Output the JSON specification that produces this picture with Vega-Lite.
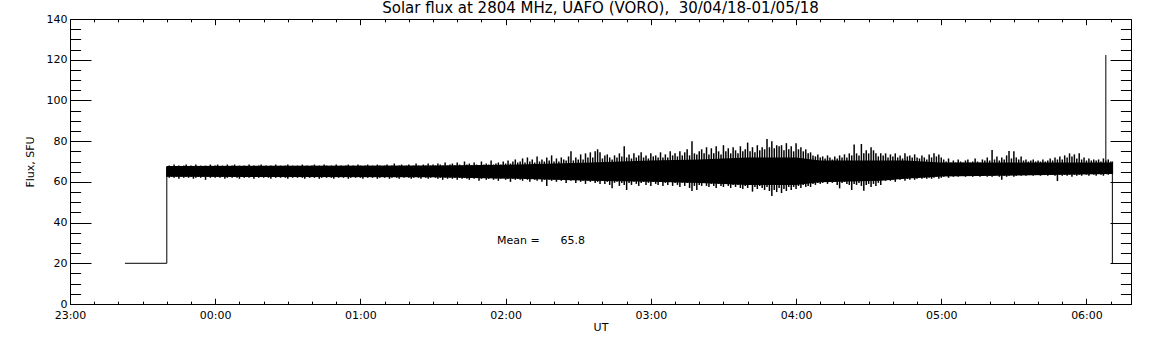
{
"$schema":"https://vega.github.io/schema/vega-lite/v6.json",
"autosize":{"type":"none"},
"padding":{"left":70,"top":19,"right":21,"bottom":41},
"width":1061,"height":285,
"background":"white",
"title":{"text":"Solar flux at 2804 MHz, UAFO (VORO),\u00a0 30/04/18-01/05/18","font":"DejaVu Sans","fontSize":15,"fontWeight":"normal","color":"black","anchor":"middle","baseline":"alphabetic","offset":-15},
"config":{"view":{"stroke":null},"axis":{"grid":false,"domainColor":"black","tickColor":"black","labelColor":"black","titleColor":"black","labelFont":"DejaVu Sans","labelFontSize":11,"titleFont":"DejaVu Sans","titleFontSize":11,"titleFontWeight":"normal","domainWidth":1,"tickWidth":1,"labelFlush":false,"labelOverlap":false}},
"datasets":{
"core":[
{"m":40,"l":62.5,"h":67.8},{"m":150,"l":62.3,"h":68},{"m":185,"l":61.5,"h":68.5},{"m":215,"l":60.5,"h":69.5},{"m":240,"l":60,"h":70.5},{"m":260,"l":59.5,"h":71},{"m":280,"l":58.5,"h":72},{"m":300,"l":58.5,"h":72},{"m":310,"l":59.8,"h":70.5},{"m":335,"l":60.5,"h":70.5},{"m":345,"l":61.5,"h":70.5},{"m":360,"l":62.6,"h":69.5},{"m":430.7,"l":63.8,"h":69.5}
],
"band":[
{"m":40,"l":62.5,"h":67.5},{"m":41,"l":62,"h":68},{"m":42,"l":62.5,"h":67.5},{"m":43,"l":62,"h":68.5},{"m":44,"l":62.5,"h":67.5},{"m":45,"l":61.5,"h":68},{"m":46,"l":62.5,"h":67.5},{"m":47,"l":62,"h":68},{"m":48,"l":62.5,"h":68.5},{"m":49,"l":62,"h":67.5},
{"m":50,"l":62.5,"h":68},{"m":51,"l":61.5,"h":67.5},{"m":52,"l":62,"h":68.5},{"m":53,"l":62.5,"h":67.5},{"m":54,"l":62,"h":68},{"m":55,"l":62.5,"h":67.5},{"m":56,"l":61,"h":68},{"m":57,"l":62.5,"h":67.5},{"m":58,"l":62,"h":68.5},{"m":59,"l":62.5,"h":67.5},
{"m":60,"l":62,"h":68},{"m":61,"l":62.5,"h":68.5},{"m":62,"l":62,"h":67.5},{"m":63,"l":62.5,"h":68},{"m":64,"l":61.5,"h":67.5},{"m":65,"l":62,"h":68.5},{"m":66,"l":62.5,"h":67.5},{"m":67,"l":62,"h":68},{"m":68,"l":62.5,"h":68.5},{"m":69,"l":62,"h":67.5},
{"m":70,"l":61.5,"h":68},{"m":71,"l":62.5,"h":67.5},{"m":72,"l":62,"h":68},{"m":73,"l":62.5,"h":67.5},{"m":74,"l":62,"h":68.5},{"m":75,"l":62.5,"h":67.5},{"m":76,"l":61.5,"h":68},{"m":77,"l":62.5,"h":67.5},{"m":78,"l":62,"h":68},{"m":79,"l":62.5,"h":68.5},
{"m":80,"l":62,"h":67.5},{"m":81,"l":62.5,"h":68},{"m":82,"l":62,"h":67.5},{"m":83,"l":61.5,"h":68},{"m":84,"l":62.5,"h":67.5},{"m":85,"l":62,"h":68.5},{"m":86,"l":62.5,"h":67.5},{"m":87,"l":62,"h":68},{"m":88,"l":62.5,"h":67.5},{"m":89,"l":62,"h":68},
{"m":90,"l":61.5,"h":68.5},{"m":91,"l":62.5,"h":67.5},{"m":92,"l":62,"h":68},{"m":93,"l":62.5,"h":67.5},{"m":94,"l":62,"h":68},{"m":95,"l":62.5,"h":67.5},{"m":96,"l":62,"h":68.5},{"m":97,"l":61.5,"h":67.5},{"m":98,"l":62.5,"h":68},{"m":99,"l":62,"h":67.5},
{"m":100,"l":62.5,"h":68},{"m":101,"l":62,"h":68.5},{"m":102,"l":62.5,"h":67.5},{"m":103,"l":61.5,"h":68},{"m":104,"l":62,"h":67.5},{"m":105,"l":62.5,"h":68.5},{"m":106,"l":62,"h":68},{"m":107,"l":62.5,"h":67.5},{"m":108,"l":62,"h":68},{"m":109,"l":61.5,"h":67.5},
{"m":110,"l":62.5,"h":68.5},{"m":111,"l":62,"h":67.5},{"m":112,"l":62.5,"h":68},{"m":113,"l":62,"h":67.5},{"m":114,"l":62.5,"h":68},{"m":115,"l":61.5,"h":68.5},{"m":116,"l":62,"h":67.5},{"m":117,"l":62.5,"h":68},{"m":118,"l":62,"h":67.5},{"m":119,"l":62.5,"h":68.5},
{"m":120,"l":62,"h":68},{"m":121,"l":61.5,"h":67.5},{"m":122,"l":62.5,"h":68},{"m":123,"l":62,"h":68.5},{"m":124,"l":62.5,"h":67.5},{"m":125,"l":62,"h":68},{"m":126,"l":62.5,"h":67.5},{"m":127,"l":61.5,"h":68.5},{"m":128,"l":62,"h":68},{"m":129,"l":62.5,"h":67.5},
{"m":130,"l":62,"h":68},{"m":131,"l":62.5,"h":68.5},{"m":132,"l":61.5,"h":67.5},{"m":133,"l":62,"h":68},{"m":134,"l":62.5,"h":69},{"m":135,"l":62,"h":67.5},{"m":136,"l":61.5,"h":68},{"m":137,"l":62.5,"h":68.5},{"m":138,"l":62,"h":67.5},{"m":139,"l":62.5,"h":68},
{"m":140,"l":62,"h":68.5},{"m":141,"l":61.5,"h":67.5},{"m":142,"l":62,"h":68},{"m":143,"l":62.5,"h":69},{"m":144,"l":62,"h":68},{"m":145,"l":61.5,"h":67.5},{"m":146,"l":62.5,"h":68.5},{"m":147,"l":62,"h":68},{"m":148,"l":61.5,"h":69},{"m":149,"l":62,"h":68},
{"m":150,"l":62.5,"h":68.5},{"m":151,"l":62,"h":68},{"m":152,"l":61.5,"h":69},{"m":153,"l":62,"h":68.5},{"m":154,"l":61,"h":68},{"m":155,"l":62,"h":69.5},{"m":156,"l":61.5,"h":68},{"m":157,"l":62,"h":68.5},{"m":158,"l":61.5,"h":69},{"m":159,"l":62,"h":68},
{"m":160,"l":61,"h":69.5},{"m":161,"l":62,"h":68.5},{"m":162,"l":61.5,"h":68},{"m":163,"l":62,"h":70},{"m":164,"l":61.5,"h":68.5},{"m":165,"l":61,"h":69},{"m":166,"l":62,"h":68},{"m":167,"l":61.5,"h":69.5},{"m":168,"l":62,"h":68.5},{"m":169,"l":60.5,"h":68},
{"m":170,"l":61.5,"h":70},{"m":171,"l":62,"h":68.5},{"m":172,"l":61,"h":69},{"m":173,"l":61.5,"h":68.5},{"m":174,"l":62,"h":70.5},{"m":175,"l":61,"h":68.5},{"m":176,"l":61.5,"h":69},{"m":177,"l":60.5,"h":69.5},{"m":178,"l":61.5,"h":68.5},{"m":179,"l":62,"h":70},
{"m":180,"l":61,"h":69},{"m":181,"l":61.5,"h":70.5},{"m":182,"l":60,"h":69},{"m":183,"l":61.5,"h":70},{"m":184,"l":61,"h":71},{"m":185,"l":61.5,"h":69.5},{"m":186,"l":61,"h":70},{"m":187,"l":60.5,"h":71.5},{"m":188,"l":61.5,"h":69.5},{"m":189,"l":61,"h":72},
{"m":190,"l":60,"h":70},{"m":191,"l":61.5,"h":71},{"m":192,"l":61,"h":69.5},{"m":193,"l":60.5,"h":72.5},{"m":194,"l":61.5,"h":70},{"m":195,"l":60,"h":71},{"m":196,"l":61,"h":70},{"m":197,"l":58,"h":72},{"m":198,"l":61,"h":70.5},{"m":199,"l":60.5,"h":73},
{"m":200,"l":61,"h":70},{"m":201,"l":60,"h":71.5},{"m":202,"l":61.5,"h":70},{"m":203,"l":60.5,"h":72},{"m":204,"l":61,"h":71},{"m":205,"l":59.5,"h":70.5},{"m":206,"l":61,"h":72.5},{"m":207,"l":60.5,"h":75},{"m":208,"l":61,"h":70.5},{"m":209,"l":59.5,"h":72},
{"m":210,"l":61,"h":71},{"m":211,"l":60,"h":73.5},{"m":212,"l":60.5,"h":71},{"m":213,"l":59,"h":74},{"m":214,"l":60.5,"h":72},{"m":215,"l":60,"h":74.5},{"m":216,"l":60.5,"h":72},{"m":217,"l":59.5,"h":75},{"m":218,"l":60,"h":76},{"m":219,"l":59,"h":74.5},
{"m":220,"l":60.5,"h":71.5},{"m":221,"l":59,"h":73},{"m":222,"l":60,"h":73.5},{"m":223,"l":58.5,"h":72},{"m":224,"l":56.8,"h":71},{"m":225,"l":59.5,"h":73},{"m":226,"l":60,"h":72},{"m":227,"l":58,"h":74},{"m":228,"l":59.5,"h":72.5},{"m":229,"l":58.5,"h":77.5},
{"m":230,"l":56,"h":72},{"m":231,"l":59.5,"h":73.5},{"m":232,"l":58.5,"h":71.5},{"m":233,"l":60,"h":74},{"m":234,"l":59,"h":72},{"m":235,"l":58,"h":73},{"m":236,"l":59.5,"h":74.5},{"m":237,"l":60,"h":72},{"m":238,"l":58.5,"h":73},{"m":239,"l":59.5,"h":71.5},
{"m":240,"l":58,"h":74},{"m":241,"l":60,"h":72.5},{"m":242,"l":59,"h":73},{"m":243,"l":58.5,"h":72},{"m":244,"l":60,"h":74.5},{"m":245,"l":58,"h":72},{"m":246,"l":59.5,"h":73.5},{"m":247,"l":58.5,"h":72},{"m":248,"l":60,"h":75},{"m":249,"l":58,"h":73},
{"m":250,"l":59.5,"h":74},{"m":251,"l":58.5,"h":72.5},{"m":252,"l":57.5,"h":75},{"m":253,"l":59.5,"h":73},{"m":254,"l":58,"h":74.5},{"m":255,"l":59.5,"h":76},{"m":256,"l":57,"h":73},{"m":257,"l":55.5,"h":80},{"m":258,"l":58,"h":74},{"m":259,"l":56,"h":73.5},
{"m":260,"l":58.5,"h":75},{"m":261,"l":58,"h":76},{"m":262,"l":59.5,"h":74},{"m":263,"l":58,"h":77},{"m":264,"l":57.5,"h":73.5},{"m":265,"l":59,"h":76.5},{"m":266,"l":58,"h":74},{"m":267,"l":57,"h":77.5},{"m":268,"l":59,"h":75},{"m":269,"l":58,"h":73.5},
{"m":270,"l":57.5,"h":78},{"m":271,"l":59,"h":75},{"m":272,"l":58,"h":76.5},{"m":273,"l":57,"h":74},{"m":274,"l":58.5,"h":77},{"m":275,"l":57.5,"h":75.5},{"m":276,"l":58.5,"h":74},{"m":277,"l":57,"h":77.5},{"m":278,"l":56.5,"h":75},{"m":279,"l":58,"h":76},
{"m":280,"l":57,"h":79.3},{"m":281,"l":58.5,"h":75},{"m":282,"l":55.2,"h":77},{"m":283,"l":57.5,"h":74.5},{"m":284,"l":56.5,"h":78},{"m":285,"l":58,"h":75.5},{"m":286,"l":57,"h":77},{"m":287,"l":56,"h":76},{"m":288,"l":57.5,"h":81},{"m":289,"l":55.5,"h":77},
{"m":290,"l":53,"h":80},{"m":291,"l":56,"h":76.5},{"m":292,"l":55,"h":78},{"m":293,"l":57,"h":77.5},{"m":294,"l":54.5,"h":78},{"m":295,"l":56.5,"h":75.5},{"m":296,"l":55.5,"h":79},{"m":297,"l":57.5,"h":76},{"m":298,"l":56,"h":77.5},{"m":299,"l":57.5,"h":75},
{"m":300,"l":56.5,"h":79},{"m":301,"l":58,"h":76},{"m":302,"l":57,"h":77},{"m":303,"l":58.5,"h":75},{"m":304,"l":57.5,"h":76},{"m":305,"l":58,"h":74},{"m":306,"l":57.5,"h":74.5},{"m":307,"l":59,"h":73},{"m":308,"l":58.5,"h":72.5},{"m":309,"l":59.5,"h":73.5},
{"m":310,"l":59,"h":72},{"m":311,"l":59.5,"h":72.5},{"m":312,"l":60,"h":71.5},{"m":313,"l":59,"h":73},{"m":314,"l":60,"h":72},{"m":315,"l":59.5,"h":71},{"m":316,"l":60,"h":72.5},{"m":317,"l":58.5,"h":71.5},{"m":318,"l":56.8,"h":73},{"m":319,"l":59.5,"h":72},
{"m":320,"l":60,"h":73.5},{"m":321,"l":59,"h":72},{"m":322,"l":58.5,"h":74},{"m":323,"l":56,"h":73},{"m":324,"l":59,"h":78.4},{"m":325,"l":58.5,"h":74},{"m":326,"l":59.5,"h":73},{"m":327,"l":58,"h":78.6},{"m":328,"l":55.6,"h":74},{"m":329,"l":58.5,"h":75.5},
{"m":330,"l":59,"h":74},{"m":331,"l":57.5,"h":77},{"m":332,"l":59,"h":75.5},{"m":333,"l":58,"h":74},{"m":334,"l":59.5,"h":72.5},{"m":335,"l":58.5,"h":74},{"m":336,"l":61,"h":73},{"m":337,"l":60.5,"h":74},{"m":338,"l":61.5,"h":72},{"m":339,"l":60.5,"h":73.5},
{"m":340,"l":61,"h":72.5},{"m":341,"l":60,"h":74},{"m":342,"l":61.5,"h":72},{"m":343,"l":61,"h":73},{"m":344,"l":61.5,"h":71.5},{"m":345,"l":60.5,"h":74},{"m":346,"l":61.5,"h":72.5},{"m":347,"l":61,"h":73},{"m":348,"l":62,"h":72},{"m":349,"l":61,"h":73.5},
{"m":350,"l":61.5,"h":72},{"m":351,"l":62,"h":71.5},{"m":352,"l":61.5,"h":73},{"m":353,"l":62,"h":72},{"m":354,"l":61.5,"h":71},{"m":355,"l":62,"h":73.5},{"m":356,"l":61.5,"h":72},{"m":357,"l":62,"h":74},{"m":358,"l":62.5,"h":72.5},{"m":359,"l":61.5,"h":73.5},
{"m":360,"l":62,"h":72},{"m":361,"l":62.5,"h":71},{"m":362,"l":63,"h":70},{"m":363,"l":62,"h":71.5},{"m":364,"l":63,"h":69.5},{"m":365,"l":62.5,"h":70.5},{"m":366,"l":63.5,"h":69.5},{"m":367,"l":62.5,"h":71},{"m":368,"l":63,"h":70},{"m":369,"l":63.5,"h":69.5},
{"m":370,"l":62.5,"h":70.5},{"m":371,"l":63,"h":71},{"m":372,"l":63.5,"h":69.5},{"m":373,"l":62.5,"h":70},{"m":374,"l":63,"h":71.5},{"m":375,"l":63.5,"h":70},{"m":376,"l":62.5,"h":69.5},{"m":377,"l":63,"h":71},{"m":378,"l":63.5,"h":70.5},{"m":379,"l":62.5,"h":72},
{"m":380,"l":63,"h":70.5},{"m":381,"l":62.5,"h":75.6},{"m":382,"l":63,"h":71},{"m":383,"l":63.5,"h":72.5},{"m":384,"l":62.5,"h":70.5},{"m":385,"l":61,"h":72},{"m":386,"l":63,"h":71},{"m":387,"l":62.5,"h":73},{"m":388,"l":63,"h":75.1},{"m":389,"l":63.5,"h":71.5},
{"m":390,"l":62.5,"h":75},{"m":391,"l":63,"h":72},{"m":392,"l":63.5,"h":71},{"m":393,"l":63,"h":72.5},{"m":394,"l":63.5,"h":70.5},{"m":395,"l":63,"h":71},{"m":396,"l":64,"h":70},{"m":397,"l":63.5,"h":70.5},{"m":398,"l":63,"h":71},{"m":399,"l":64,"h":70},
{"m":400,"l":63.5,"h":70.5},{"m":401,"l":63,"h":70},{"m":402,"l":64,"h":71},{"m":403,"l":63.5,"h":70},{"m":404,"l":63,"h":70.5},{"m":405,"l":64,"h":71.5},{"m":406,"l":63.5,"h":70.5},{"m":407,"l":63,"h":72},{"m":408,"l":60.4,"h":71},{"m":409,"l":63.5,"h":72.5},
{"m":410,"l":63,"h":71},{"m":411,"l":63.5,"h":73},{"m":412,"l":63,"h":72},{"m":413,"l":63.5,"h":74},{"m":414,"l":62.5,"h":72.5},{"m":415,"l":63.5,"h":73.5},{"m":416,"l":63,"h":71.5},{"m":417,"l":63.5,"h":74},{"m":418,"l":63,"h":71},{"m":419,"l":64,"h":72},
{"m":420,"l":63.5,"h":70.5},{"m":421,"l":63,"h":71.5},{"m":422,"l":64,"h":70.5},{"m":423,"l":63.5,"h":71},{"m":424,"l":63,"h":70.5},{"m":425,"l":64,"h":71},{"m":426,"l":63.5,"h":70},{"m":427,"l":63,"h":71.5},{"m":428,"l":64,"h":70.5},{"m":429,"l":63.5,"h":71},
{"m":430,"l":64,"h":70},{"m":430.7,"l":64,"h":70}
],
"segs":[
{"g":"a","o":1,"m":22.7,"v":20},{"g":"a","o":2,"m":40,"v":20},{"g":"a","o":3,"m":40,"v":64},
{"g":"b","o":1,"m":430.7,"v":66},{"g":"b","o":2,"m":430.7,"v":20}
],
"spike":[{"m":428,"lo":66,"hi":122.3}],
"note":[{"m":176.4,"v":29.5,"t":"Mean =\u00a0\u00a0\u00a0\u00a0\u00a0\u00a065.8"}]
},
"resolve":{"axis":{"x":"independent","y":"independent"}},
"layer":[
{"data":{"name":"core"},
 "mark":{"type":"area","color":"black","opacity":1},
 "encoding":{
  "x":{"field":"m","type":"quantitative","scale":{"domain":[0,438.4],"nice":false,"zero":false},
       "axis":{"orient":"bottom","values":[0,60,120,180,240,300,360,420],"tickSize":-5.7,"labelPadding":11.5,"labelExpr":"timeFormat(datetime(2018,3,30,23,datum.value,0,0),'%H:%M')","title":"UT","titlePadding":1}},
  "y":{"field":"h","type":"quantitative","scale":{"domain":[0,140],"nice":false,"zero":false},
       "axis":{"orient":"left","values":[0,20,40,60,80,100,120,140],"tickSize":-21,"labelPadding":24,"title":"Flux, SFU","titlePadding":11}},
  "y2":{"field":"l"}
 }},
{"data":{"name":"segs"},
 "mark":{"type":"line","color":"black","strokeWidth":1},
 "encoding":{
  "x":{"field":"m","type":"quantitative","scale":{"domain":[0,438.4],"nice":false,"zero":false},
       "axis":{"orient":"bottom","values":[0,10,20,30,40,50,60,70,80,90,100,110,120,130,140,150,160,170,180,190,200,210,220,230,240,250,260,270,280,290,300,310,320,330,340,350,360,370,380,390,400,410,420,430],"tickSize":-2.85,"labels":false,"domain":false,"title":null}},
  "y":{"field":"v","type":"quantitative","scale":{"domain":[0,140],"nice":false,"zero":false},
       "axis":{"orient":"left","values":[0,5,10,15,20,25,30,35,40,45,50,55,60,65,70,75,80,85,90,95,100,105,110,115,120,125,130,135,140],"tickSize":-10.6,"labels":false,"domain":false,"title":null}},
  "detail":{"field":"g"},
  "order":{"field":"o"}
 }},
{"data":{"name":"note"},
 "mark":{"type":"text","align":"left","baseline":"alphabetic","font":"DejaVu Sans","fontSize":11,"color":"black"},
 "encoding":{
  "x":{"field":"m","type":"quantitative","scale":{"domain":[0,438.4],"nice":false,"zero":false},
       "axis":{"orient":"top","values":[0,60,120,180,240,300,360,420],"tickSize":-5.7,"labels":false,"title":null}},
  "y":{"field":"v","type":"quantitative","scale":{"domain":[0,140],"nice":false,"zero":false},
       "axis":{"orient":"right","values":[0,20,40,60,80,100,120,140],"tickSize":-21,"labels":false,"title":null}},
  "text":{"field":"t"}
 }},
{"data":{"name":"spike"},
 "mark":{"type":"rule","color":"black","strokeWidth":1},
 "encoding":{
  "x":{"field":"m","type":"quantitative","scale":{"domain":[0,438.4],"nice":false,"zero":false},
       "axis":{"orient":"top","values":[0,10,20,30,40,50,60,70,80,90,100,110,120,130,140,150,160,170,180,190,200,210,220,230,240,250,260,270,280,290,300,310,320,330,340,350,360,370,380,390,400,410,420,430],"tickSize":-2.85,"labels":false,"domain":false,"title":null}},
  "y":{"field":"lo","type":"quantitative","scale":{"domain":[0,140],"nice":false,"zero":false},
       "axis":{"orient":"right","values":[0,5,10,15,20,25,30,35,40,45,50,55,60,65,70,75,80,85,90,95,100,105,110,115,120,125,130,135,140],"tickSize":-10.6,"labels":false,"domain":false,"title":null}},
  "y2":{"field":"hi"}
 }},
{"data":{"name":"band"},
 "mark":{"type":"rule","color":"black","strokeWidth":1.5},
 "encoding":{
  "x":{"field":"m","type":"quantitative","scale":{"domain":[0,438.4],"nice":false,"zero":false},"axis":null},
  "y":{"field":"l","type":"quantitative","scale":{"domain":[0,140],"nice":false,"zero":false},"axis":null},
  "y2":{"field":"h"}
 }}
]
}
